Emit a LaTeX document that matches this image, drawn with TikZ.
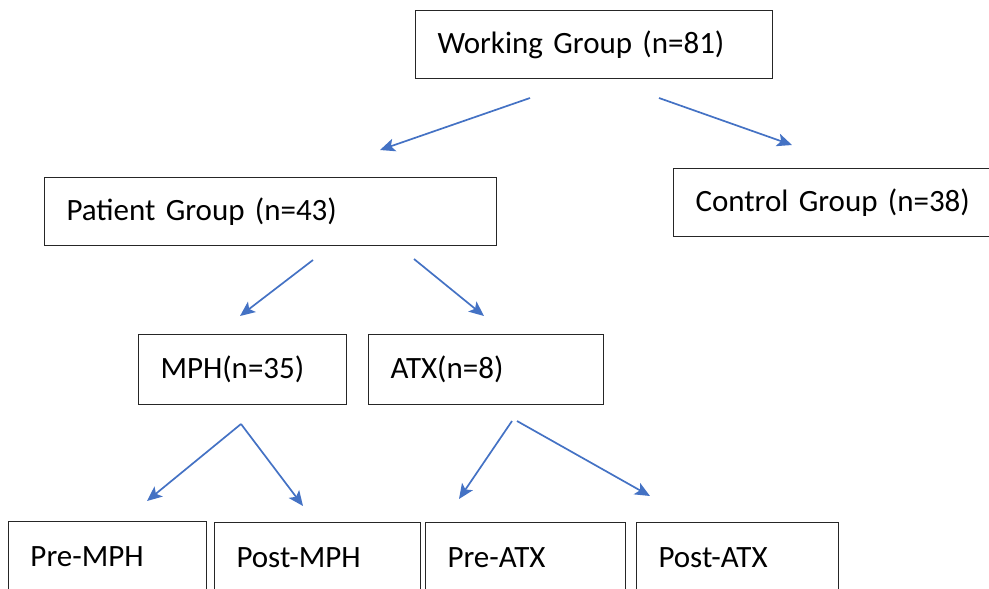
\documentclass[tikz,border=0pt]{standalone}
\usepackage{fontspec}
\setmainfont{Carlito}
\usepackage{xcolor}
\usetikzlibrary{positioning,arrows.meta}
\definecolor{boxline}{HTML}{262626}
\definecolor{arrowblue}{HTML}{4472C4}

\begin{document}
\begin{tikzpicture}[
    x=1pt, y=-1pt,
    grpbox/.style={draw=boxline, line width=1pt, anchor=north west, align=left, inner xsep=22pt, inner ysep=2pt, font=\fontsize{31}{37}\selectfont},
    arr/.style={-{Stealth[length=15pt, width=13pt, inset=3.5pt]}, line width=1.7pt, draw=arrowblue}
]
    \useasboundingbox (0,0) rectangle (989,589);
    \clip (0,0) rectangle (989,589);

    % Top level
    \node[grpbox, text width=313pt, minimum height=68pt] (work) at (415,10) {Working Group (n=81)};
    \node[grpbox, text width=408pt, minimum height=68pt] (patient) at (44,177) {Patient Group (n=43)};
    \node[grpbox, text width=292pt, minimum height=68pt] (control) at (673,168) {Control Group (n=38)};

    % Treatment groups
    \node[grpbox, text width=164pt, minimum height=70pt] (mph) at (138,334) {MPH(n=35)};
    \node[grpbox, text width=191pt, minimum height=70pt] (atx) at (368,334) {ATX(n=8)};

    % Pre / post measurements
    \node[grpbox, text width=154pt, minimum height=70pt] (premph) at (8,521) {Pre-MPH};
    \node[grpbox, text width=162pt, minimum height=70pt] (postmph) at (214,522) {Post-MPH};
    \node[grpbox, text width=156pt, minimum height=70pt] (preatx) at (425,522) {Pre-ATX};
    \node[grpbox, text width=158pt, minimum height=70pt] (postatx) at (636,522) {Post-ATX};

    % Arrow ends
    \coordinate (workL) at (530,98);  \coordinate (patientTip) at (380,150);
    \coordinate (workR) at (659,98);  \coordinate (controlTip) at (792,145);
    \coordinate (patL) at (313,260);  \coordinate (mphTip) at (240,316);
    \coordinate (patR) at (414,259);  \coordinate (atxTip) at (484,316);
    \coordinate (mphO) at (241,424);  \coordinate (premphTip) at (147,501); \coordinate (postmphTip) at (303,506);
    \coordinate (atxL) at (512,421);  \coordinate (preatxTip) at (459,499);
    \coordinate (atxR) at (517,421);  \coordinate (postatxTip) at (650,496);

    \draw[arr] (workL) -- (patientTip); \draw[arr] (workR) -- (controlTip);
    \draw[arr] (patL) -- (mphTip); \draw[arr] (patR) -- (atxTip);
    \draw[arr] (mphO) -- (premphTip); \draw[arr] (mphO) -- (postmphTip);
    \draw[arr] (atxL) -- (preatxTip); \draw[arr] (atxR) -- (postatxTip);
\end{tikzpicture}
\end{document}
